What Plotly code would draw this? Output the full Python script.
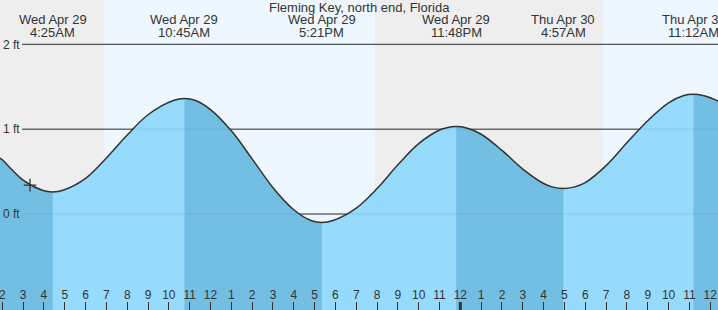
import plotly.graph_objects as go

STATION = "Fleming Key, north end, Florida"

# hours since Wed Apr 29 00:00 and tide height (ft)
curve_t = [1.89, 2, 3, 3.92, 4.42, 4.92, 6, 7, 8, 9, 10.25, 10.75, 11.25, 12, 13, 14, 15,
           16, 16.85, 17.35, 17.85, 19, 20, 21, 22, 23, 23.3, 23.8, 24.3, 25, 26, 27, 28,
           28.45, 28.95, 29.45, 30, 31, 32, 33, 34, 34.7, 35.2, 35.7, 36, 36.38]
curve_h = [0.66, 0.64, 0.40, 0.28, 0.26, 0.28, 0.42, 0.66, 0.93, 1.17, 1.34, 1.36, 1.34,
           1.23, 0.98, 0.65, 0.31, 0.05, -0.08, -0.10, -0.08, 0.07, 0.30, 0.58, 0.83, 0.99,
           1.013, 1.03, 1.013, 0.94, 0.75, 0.53, 0.36, 0.317, 0.30, 0.317, 0.37, 0.57, 0.84,
           1.10, 1.31, 1.393, 1.41, 1.393, 1.37, 1.33]

event_t = [4.4167, 10.75, 17.35, 23.8, 28.95, 35.2]
event_type = ["L", "H", "L", "H", "L", "H"]
event_day = ["Wed Apr 29", "Wed Apr 29", "Wed Apr 29", "Wed Apr 29", "Thu Apr 30", "Thu Apr 30"]
event_time = ["4:25AM", "10:45AM", "5:21PM", "11:48PM", "4:57AM", "11:12AM"]

sun_t = [6.88, 19.90, 30.84]   # sunrise, sunset, sunrise
midnight_t = 24
now_t, now_h = 3.33, 0.34

level_ticks = [0, 1, 2]
level_labels = ["0 ft", "1 ft", "2 ft"]
hour_ticks = list(range(2, 37))
hour_labels = [str((h - 1) % 12 + 1) for h in hour_ticks]

T0, T1 = 1.8895, 36.375
Y0, Y1 = -1.131, 2.522
W, H = 718, 310

NIGHT = "#eeeeee"
DAY = "#eef6fe"
WATER = "#96dbfc"
WATER_DARK = "#72bfe3"
INK = "#333333"
FONT = "Liberation Sans, Arial, sans-serif"

fig = go.Figure()

# falling-tide bands
bands = []
prev = T0
for t, kind in zip(event_t, event_type):
    if kind == "L":
        bands.append((prev, t))
    else:
        prev = t
if event_type[-1] == "H":
    bands.append((event_t[-1], T1))

def water(axis, color):
    fig.add_trace(go.Scatter(x=[curve_t[0], curve_t[-1]], y=[Y0 - 1, Y0 - 1], mode="lines",
                             line=dict(width=0), hoverinfo="skip", showlegend=False,
                             xaxis=axis, yaxis="y"))
    fig.add_trace(go.Scatter(x=curve_t, y=curve_h, mode="lines",
                             line=dict(width=0, shape="spline"), fill="tonexty",
                             fillcolor=color, hoverinfo="skip", showlegend=False,
                             xaxis=axis, yaxis="y"))

water("x", WATER)
layout_axes = {}
for i, (a, b) in enumerate(bands):
    k = i + 2
    water(f"x{k}", WATER_DARK)
    layout_axes[f"xaxis{k}"] = dict(domain=[(a - T0) / (T1 - T0), (b - T0) / (T1 - T0)],
                                    range=[a, b], visible=False, anchor="y", fixedrange=True)

top = len(bands) + 2      # outline + hour axis
lab = top + 1             # level labels + current-time marker
fig.add_trace(go.Scatter(x=curve_t, y=curve_h, mode="lines",
                         line=dict(color=INK, width=1.5, shape="spline"),
                         hoverinfo="skip", showlegend=False, xaxis=f"x{top}", yaxis="y2"))
fig.add_trace(go.Scatter(x=[now_t], y=[now_h], mode="markers",
                         marker=dict(symbol="cross-thin", size=9, color=INK,
                                     line=dict(color=INK, width=1.3)),
                         hoverinfo="skip", showlegend=False, xaxis=f"x{lab}", yaxis="y3"))

shapes = []
edges = [T0] + sun_t + [T1]
for i in range(len(edges) - 1):
    shapes.append(dict(type="rect", xref="x", yref="y domain", x0=edges[i], x1=edges[i + 1],
                       y0=0, y1=1, fillcolor=NIGHT if i % 2 == 0 else DAY,
                       line=dict(width=0), layer="below"))
for v in level_ticks:
    shapes.append(dict(type="line", xref="x domain", yref="y", x0=22 / W, x1=1, y0=v, y1=v,
                       line=dict(color=INK, width=1), layer="below"))
for v in level_ticks:
    shapes.append(dict(type="line", xref="x domain", yref="y", x0=22 / W, x1=1, y0=v, y1=v,
                       line=dict(color="rgba(0,50,90,0.10)", width=1), layer="above"))
shapes.append(dict(type="line", xref=f"x{top}", yref="y2 domain", x0=midnight_t, x1=midnight_t,
                   y0=0, y1=8 / H, line=dict(color=INK, width=3), layer="above"))

annotations = [dict(text=STATION, x=0.5, y=1 - 7 / H, xref="paper", yref="paper",
                    showarrow=False, xanchor="center", yanchor="middle",
                    font=dict(size=13, color=INK, family=FONT))]
for t, d, tm in zip(event_t, event_day, event_time):
    annotations.append(dict(text=d, x=t, y=1 - 20 / H, xref=f"x{top}", yref="paper",
                            showarrow=False, xanchor="center", yanchor="middle",
                            font=dict(size=13, color=INK, family=FONT)))
    annotations.append(dict(text=tm, x=t, y=1 - 32 / H, xref=f"x{top}", yref="paper",
                            showarrow=False, xanchor="center", yanchor="middle",
                            font=dict(size=13, color=INK, family=FONT)))

hidden = dict(showgrid=False, zeroline=False, showline=False, fixedrange=True)
fig.update_layout(
    width=W, height=H, margin=dict(l=0, r=0, t=0, b=0),
    paper_bgcolor="white", plot_bgcolor="rgba(0,0,0,0)",
    font=dict(family=FONT, color=INK, size=12),
    xaxis=dict(domain=[0, 1], range=[T0, T1], visible=False, anchor="y", fixedrange=True),
    yaxis=dict(domain=[0, 1], range=[Y0, Y1], visible=False, anchor="x", fixedrange=True),
    yaxis2=dict(domain=[0, 1], range=[Y0, Y1], anchor=f"x{top}", visible=False,
                fixedrange=True),
    yaxis3=dict(domain=[0, 1], range=[Y0, Y1], anchor=f"x{lab}", tickvals=level_ticks,
                ticktext=level_labels, ticks="", ticklabelposition="inside",
                tickfont=dict(size=12, color=INK, family=FONT), **hidden),
    shapes=shapes, annotations=annotations, showlegend=False,
    **{f"xaxis{top}": dict(domain=[0, 1], range=[T0, T1], anchor="y2", tickvals=hour_ticks,
                           ticktext=hour_labels, ticks="inside", ticklen=8, tickwidth=1,
                           tickcolor=INK, ticklabelposition="inside",
                           ticklabeloverflow="allow",
                           tickfont=dict(size=12, color=INK, family=FONT), **hidden),
       f"xaxis{lab}": dict(domain=[0, 1], range=[T0, T1], anchor="y3", visible=False,
                           fixedrange=True)},
    **layout_axes,
)

fig.write_html("out.html")
